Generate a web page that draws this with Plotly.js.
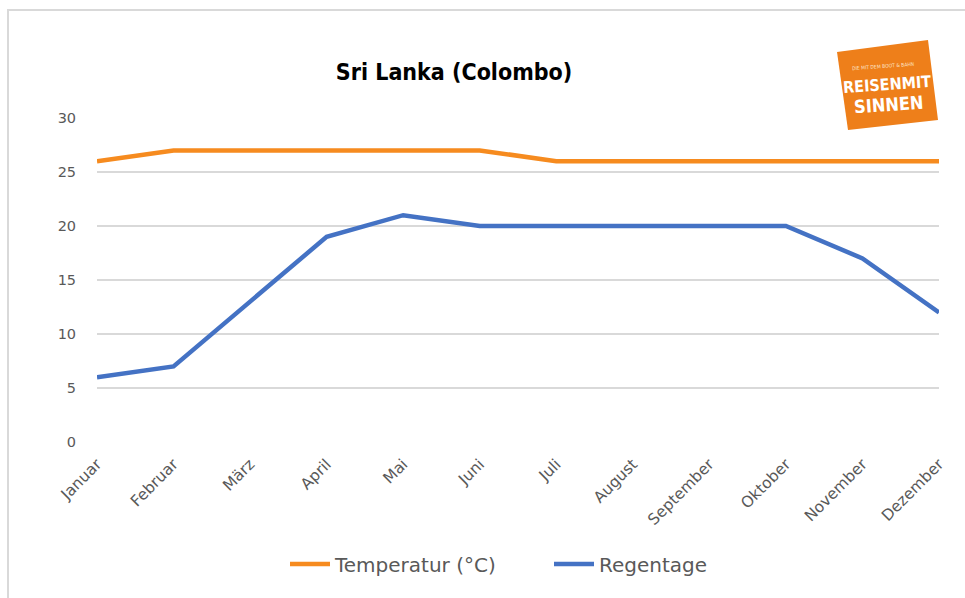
<!DOCTYPE html>
<html>
<head>
<meta charset="utf-8">
<script src="https://cdn.plot.ly/plotly-3.0.1.min.js"></script>
<style>html,body{margin:0;padding:0;background:#fff;}#chart{width:965px;height:598px;}</style>
</head>
<body>
<div id="chart"></div>
<script>
const months = ["Januar","Februar","März","April","Mai","Juni","Juli","August","September","Oktober","November","Dezember"];
const temperatur = [26,27,27,27,27,27,26,26,26,26,26,26];
const regentage = [6,7,13,19,21,20,20,20,20,20,17,12];
const yTicks = [0,5,10,15,20,25,30];

// plot area geometry helpers (pixel -> paper)
const L = 97, R = 939, T = 118, B = 442;
const px = x => (x - L) / (R - L);
const py = y => (B - y) / (B - T);
const COND = "DejaVu Sans Condensed, Liberation Sans Narrow, Arial Narrow, sans-serif";

const traces = [
  {x: months, y: temperatur, name: "Temperatur (°C)", type: "scatter", mode: "lines",
   line: {color: "#F68B1F", width: 4.5}},
  {x: months, y: regentage, name: "Regentage", type: "scatter", mode: "lines",
   line: {color: "#4472C4", width: 4.5}}
];

const layout = {
  width: 965, height: 598,
  margin: {l: L, r: 965 - R, t: T, b: 598 - B, pad: 0},
  paper_bgcolor: "#fff", plot_bgcolor: "#fff",
  showlegend: true,
  title: {text: "<b>Sri Lanka (Colombo)</b>", x: 454 / 965, xanchor: "center",
          y: 1 - 72 / 598, yanchor: "middle",
          font: {family: COND, size: 23, color: "#000"}},
  xaxis: {type: "category", range: [0, 11], showgrid: false, zeroline: false, showline: false,
          tickangle: -45, tickfont: {family: "DejaVu Sans", size: 15.5, color: "#595959"},
          ticks: "outside", ticklen: 6, tickcolor: "rgba(0,0,0,0)", fixedrange: true},
  yaxis: {range: [0, 30], tickvals: yTicks, ticktext: yTicks.map(String),
          showgrid: true, gridcolor: "#d9d9d9", gridwidth: 1.5, zeroline: false, showline: false,
          tickfont: {family: "DejaVu Sans", size: 14.5, color: "#595959"},
          ticks: "outside", ticklen: 17, tickcolor: "rgba(0,0,0,0)", fixedrange: true},
  legend: {orientation: "h", x: px(285), xanchor: "left", y: py(564), yanchor: "middle",
           font: {family: "DejaVu Sans", size: 20, color: "#595959"},
           itemwidth: 40, entrywidth: 209, entrywidthmode: "pixels", bgcolor: "rgba(0,0,0,0)"},
  shapes: [
    {type: "path", xref: "paper", yref: "paper",
     path: `M ${px(8)} ${py(598)} L ${px(8)} ${py(10)} L ${px(965)} ${py(10)}`,
     line: {color: "#d9d9d9", width: 2}},
    {type: "path", xref: "paper", yref: "paper",
     path: `M ${px(837)} ${py(52)} L ${px(928)} ${py(40)} L ${px(938)} ${py(120)} L ${px(848)} ${py(130)} Z`,
     fillcolor: "#EE7F1A", line: {width: 0}}
  ],
  annotations: [
    {xref: "paper", yref: "paper", x: px(887), y: py(84), xanchor: "center", yanchor: "middle",
     text: "<b>REISENMIT</b>", showarrow: false,
     textangle: -4, font: {family: COND, size: 16, color: "#fff"}},
    {xref: "paper", yref: "paper", x: px(888), y: py(104), xanchor: "center", yanchor: "middle",
     text: "<b>SINNEN</b>", showarrow: false,
     textangle: -4, font: {family: COND, size: 18, color: "#fff"}},
    {xref: "paper", yref: "paper", x: px(883), y: py(66), xanchor: "center", yanchor: "middle",
     text: "DIE MIT DEM BOOT & BAHN", showarrow: false,
     textangle: -4, font: {family: COND, size: 5, color: "#fde3c8"}}
  ]
};

Plotly.newPlot("chart", traces, layout, {displayModeBar: false, staticPlot: true});
</script>
</body>
</html>
